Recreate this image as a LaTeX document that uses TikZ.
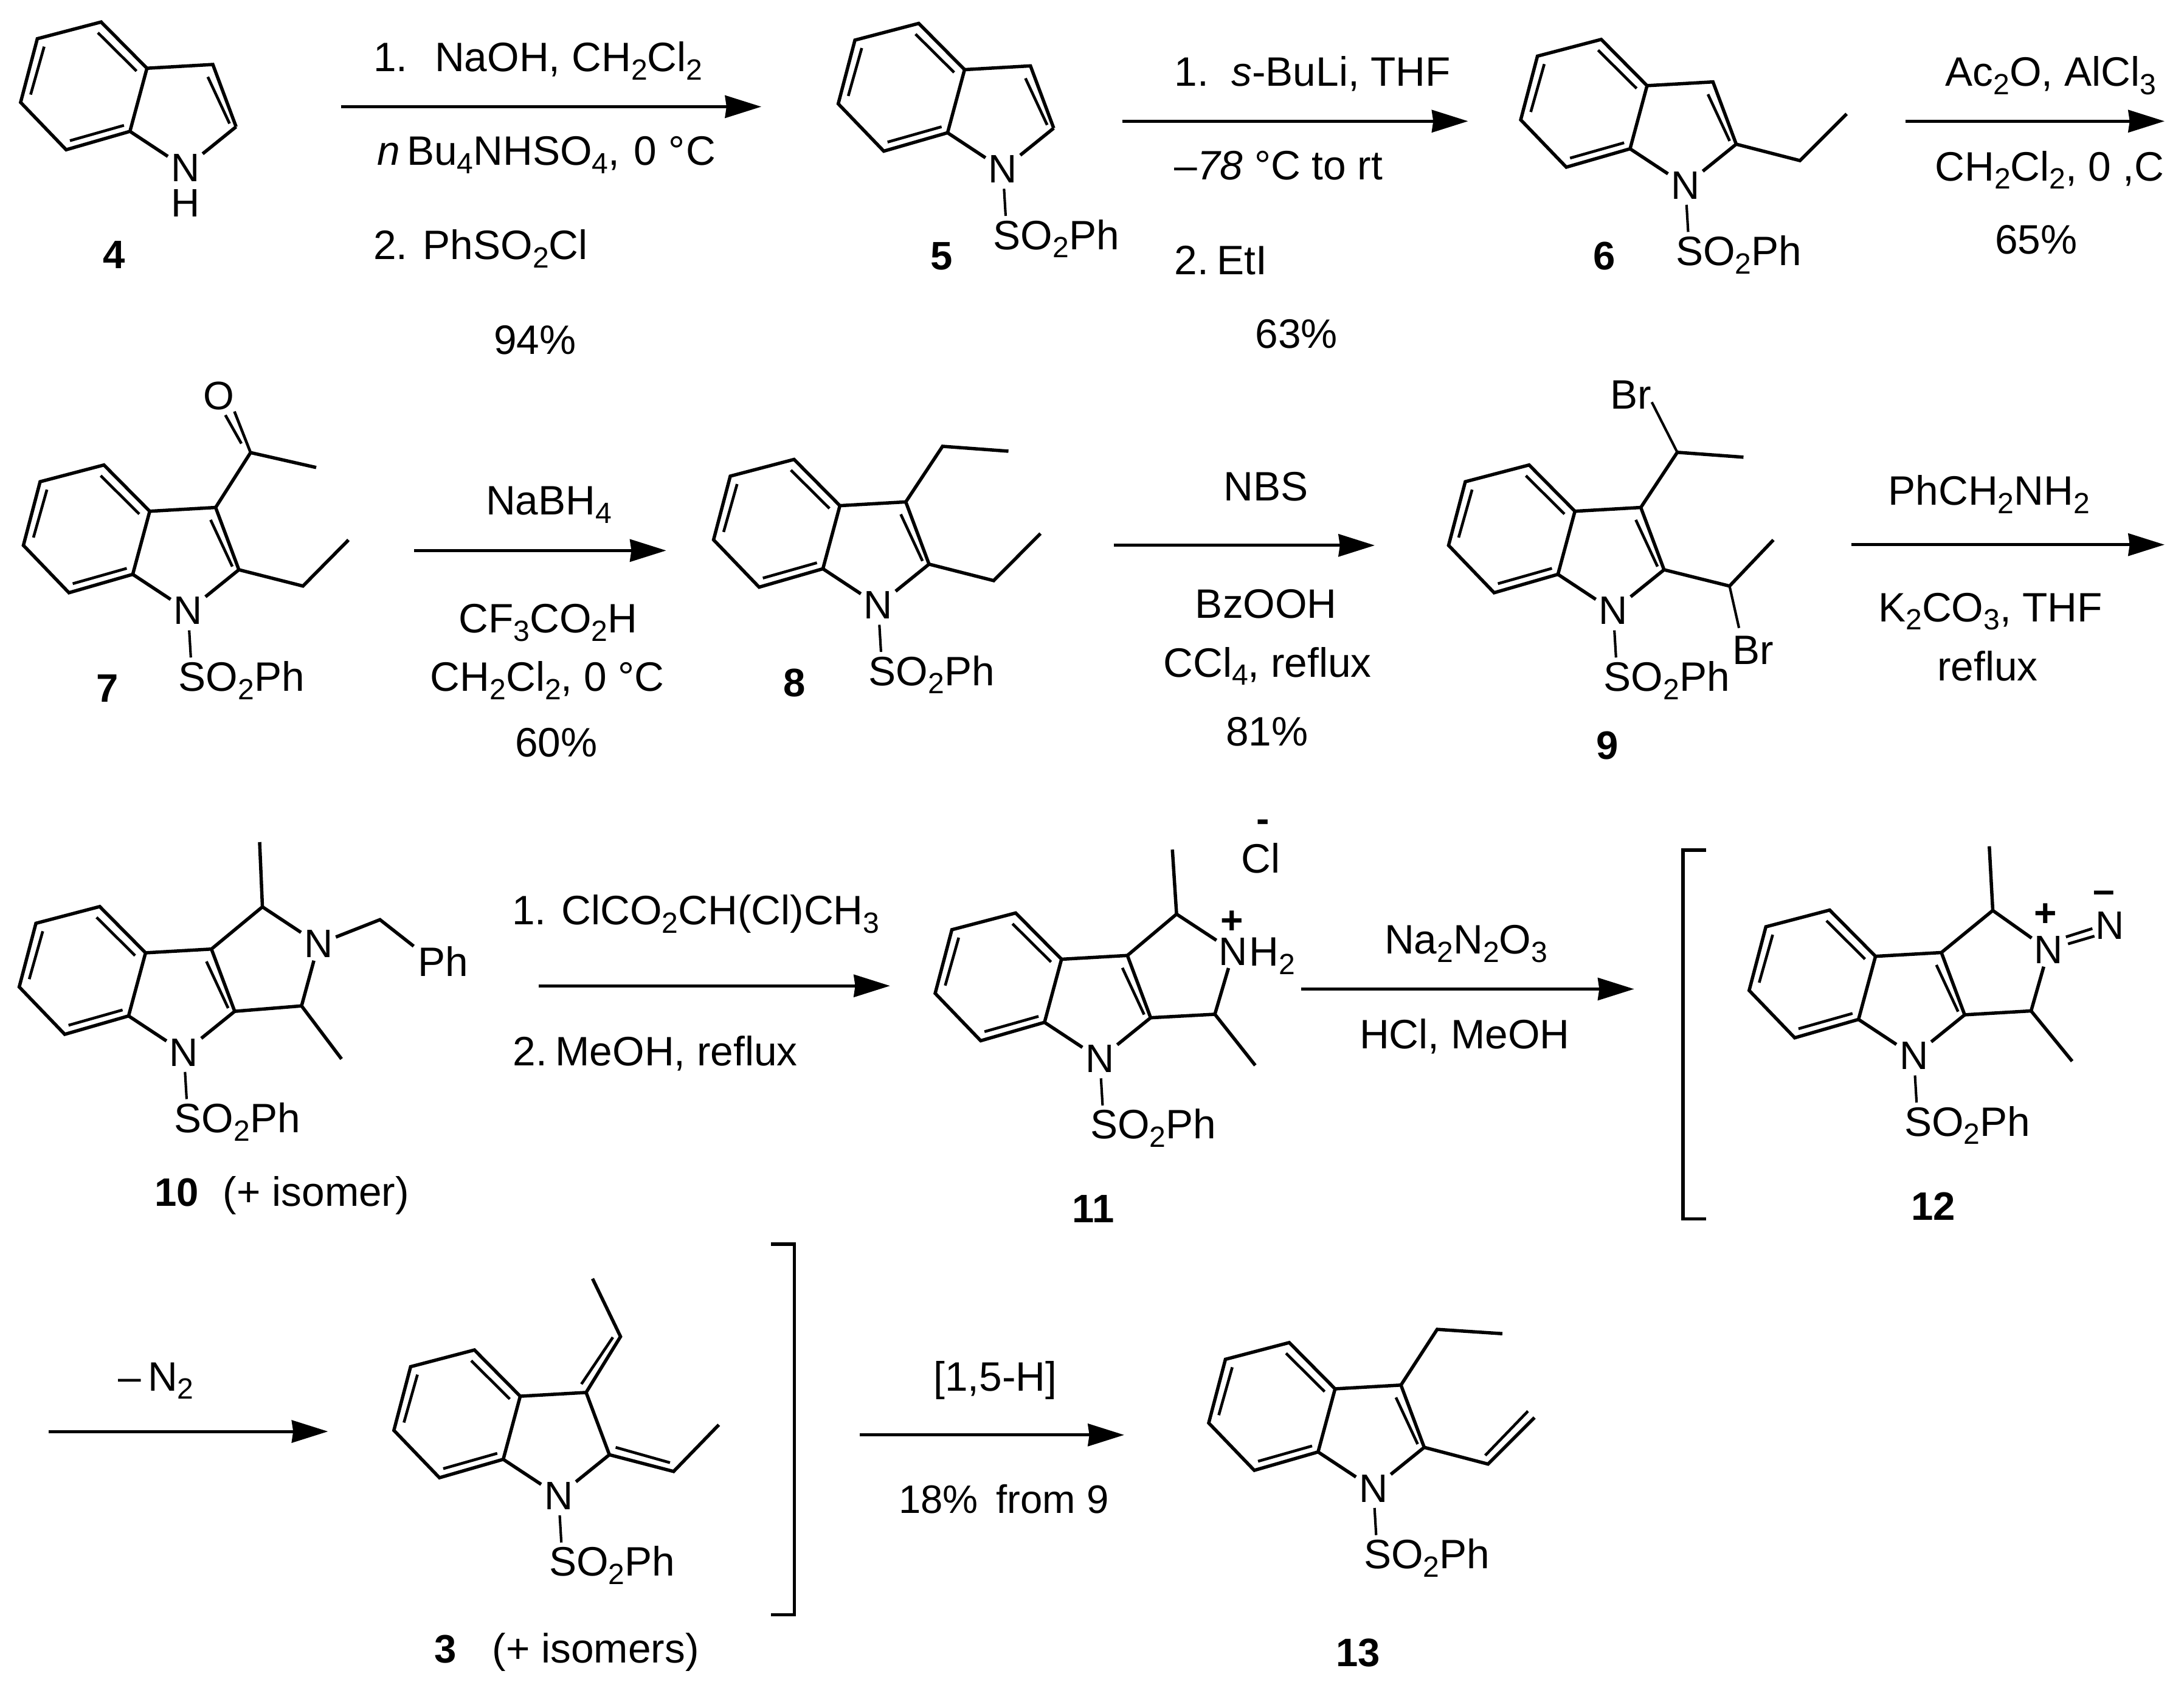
\documentclass[tikz,border=0pt]{standalone}
\usepackage{fontspec}
\setmainfont{Liberation Sans}
\usetikzlibrary{arrows.meta}
\newcommand{\chemsub}[1]{\raisebox{-6pt}{\fontsize{21}{21}\selectfont #1}}
\newcommand{\dg}{\textdegree}
\tikzset{
  bond/.style={line width=2.4pt,line join=miter,line cap=butt},
  thin bond/.style={line width=2pt,line cap=butt},
  so bond/.style={line width=1.8pt,line cap=butt},
  rxnarrow/.style={line width=2.2pt,-{Stealth[length=26pt,width=16pt,inset=1pt]}},
  brk/.style={line width=2.4pt,line join=miter},
  reagent/.style={inner sep=0pt,anchor=base west,yshift=-0.7pt,font=\fontsize{29.5}{32}\selectfont},
  reagentc/.style={inner sep=0pt,anchor=base,yshift=-0.7pt,font=\fontsize{29.5}{32}\selectfont},
  atomlabel/.style={inner sep=0pt,anchor=base west,yshift=-0.5pt,font=\fontsize{29.5}{32}\selectfont},
  atom/.style={inner sep=2pt,font=\fontsize{28.5}{32}\selectfont},
  tight atom/.style={inner sep=0pt,font=\fontsize{28.5}{32}\selectfont},
  cpd/.style={inner sep=0pt,anchor=base,yshift=-0.7pt,font=\fontsize{28.5}{32}\selectfont\bfseries},
  charge/.style={inner sep=0pt,font=\fontsize{28}{32}\selectfont\bfseries},
}
% indole skeleton, in a scope with a shift and a name prefix
\newcommand{\indolecore}{%
  \coordinate (a) at (72.6,15.8); \coordinate (b) at (26.8,27.8);
  \coordinate (c) at (14.8,73.5); \coordinate (d) at (47.5,107.5);
  \coordinate (e) at (93.3,94.3); \coordinate (f) at (105.5,49);
  \coordinate (g) at (152.8,46.3); \coordinate (h) at (169.5,91);
  \node[atom] (N) at (133,120.5) {N};
  \draw[bond] (f) -- (a) -- (b) -- (c) -- (d) -- (e) -- cycle;
  \draw[bond] (f) -- (g) -- (h);
  \draw[bond] (e) -- (N) -- (h);
  \coordinate (ab) at (70.3,23.5); \coordinate (af) at (98,51);
  \coordinate (bb) at (31.7,33.5); \coordinate (bc) at (22,67.9);
  \coordinate (db) at (50.2,101); \coordinate (de) at (89,90);
  \draw[thin bond] (ab) -- (af);
  \draw[thin bond] (bb) -- (bc);
  \draw[thin bond] (db) -- (de);
}
\newcommand{\indoleinner}{%
  \coordinate (gb) at (149.2,55.2); \coordinate (hb) at (164.8,88.7);
  \draw[thin bond] (gb) -- (hb);
}
\newcommand{\sotail}{%
  \node[atomlabel] (S) at (126,177.5) {SO\chemsub{2}Ph};
  \coordinate (soend) at (135,154);
  \draw[so bond,shorten <=2pt] (N) -- (soend);
}
\newcommand{\rxnarrow}[4]{%
  \coordinate (#1s) at (#2,#4); \coordinate (#1e) at (#3,#4);
  \draw[rxnarrow] (#1s) -- (#1e);
}
\begin{document}
\begin{tikzpicture}[x=1pt,y=-1pt]
\useasboundingbox (0,0) rectangle (1568,1209.6);
\fill[white] (0,0) rectangle (1568,1209.6);

% ---- 4
\begin{scope}[name prefix=m4-]
  \indolecore\indoleinner
  \node[atom] (H) at (133,146) {H};
\end{scope}
\node[cpd] (l4) at (82,192) {4};
\rxnarrow{r1}{244.7}{546.6}{76.6}
\node[reagent] (t1a) at (268,50.7) {1.\ \ \hspace{3pt}NaOH, CH\chemsub{2}Cl\chemsub{2}};
\node[reagent] (t1b) at (270.5,118) {\textit{n}\hspace{5pt}Bu\chemsub{4}NHSO\chemsub{4},\hspace{2pt} 0 \dg\hspace{1pt}C};
\node[reagent] (t1c) at (268,185.5) {2. PhSO\chemsub{2}Cl};
\node[reagentc] (t1d) at (384,253.4) {94\%};

% ---- 5
\begin{scope}[shift={(587,1)},name prefix=m5-]
  \indolecore\indoleinner\sotail
\end{scope}
\node[cpd] (l5) at (676,192.8) {5};
\rxnarrow{r2}{805.7}{1054}{87}
\node[reagent] (t2a) at (843,61.2) {1.\ \ \textit{s}-BuLi, THF};
\node[reagent] (t2b) at (843,128.5) {–\textit{78} \dg C to rt};
\node[reagent] (t2c) at (843,196.4) {2.\hspace{6pt}EtI};
\node[reagentc] (t2d) at (930.7,249.4) {63\%};

% ---- 6
\begin{scope}[shift={(1077,12.5)},name prefix=m6-]
  \indolecore\indoleinner\sotail
\end{scope}
\coordinate (m6-c1) at (1292.3,115.3); \coordinate (m6-c2) at (1325.8,81.8);
\draw[bond] (m6-h) -- (m6-c1) -- (m6-c2);
\node[cpd] (l6) at (1152,192.8) {6};
\rxnarrow{r3}{1368}{1554}{87}
\node[reagent] (t3a) at (1396.5,61) {Ac\chemsub{2}O, AlCl\chemsub{3}};
\node[reagent] (t3b) at (1389,129) {CH\chemsub{2}Cl\chemsub{2}, 0 ,C};
\node[reagentc] (t3c) at (1461.8,181.4) {65\%};

% ---- 7
\begin{scope}[shift={(2,318)},name prefix=m7-]
  \indolecore\indoleinner\sotail
\end{scope}
\coordinate (m7-c1) at (217.5,420.7); \coordinate (m7-c2) at (250.2,387.6);
\draw[bond] (m7-h) -- (m7-c1) -- (m7-c2);
\coordinate (m7-co) at (179.9,324.9); \coordinate (m7-me) at (227,335.6);
\draw[bond] (m7-g) -- (m7-co) -- (m7-me);
\node[atom] (m7-O) at (157,284.3) {O};
\coordinate (m7-o1) at (168.3,295.4); \coordinate (m7-o2) at (161.8,298);
\coordinate (m7-i2) at (173.3,318.4);
\draw[thin bond] (m7-o1) -- (m7-co);
\draw[thin bond] (m7-o2) -- (m7-i2);
\node[cpd] (l7) at (77,503.2) {7};
\rxnarrow{r4}{297.4}{478.3}{395.2}
\node[reagentc] (t4a) at (394,369) {NaBH\chemsub{4}};
\node[reagentc] (t4b) at (393.5,453.5) {CF\chemsub{3}CO\chemsub{2}H};
\node[reagentc] (t4c) at (393,495.4) {CH\chemsub{2}Cl\chemsub{2}, 0 \dg C};
\node[reagentc] (t4d) at (399.4,542.6) {60\%};

% ---- 8
\begin{scope}[shift={(497.5,314)},name prefix=m8-]
  \indolecore\indoleinner\sotail
\end{scope}
\coordinate (m8-c1) at (713.4,416.8); \coordinate (m8-c2) at (747,383);
\draw[bond] (m8-h) -- (m8-c1) -- (m8-c2);
\coordinate (m8-c3) at (676.7,320.4); \coordinate (m8-c4) at (724,323.9);
\draw[bond] (m8-g) -- (m8-c3) -- (m8-c4);
\node[cpd] (l8) at (570.5,499.3) {8};
\rxnarrow{r5}{799.7}{987}{391.5}
\node[reagentc] (t5a) at (909,358.8) {NBS};
\node[reagentc] (t5b) at (909,443) {BzOOH};
\node[reagentc] (t5c) at (910,485.2) {CCl\chemsub{4}, reflux};
\node[reagentc] (t5d) at (909.7,534.8) {81\%};

% ---- 9
\begin{scope}[shift={(1025.2,318)},name prefix=m9-]
  \indolecore\indoleinner\sotail
\end{scope}
\coordinate (m9-c1) at (1204.2,324.7); \coordinate (m9-c2) at (1251.7,328.2);
\node[atomlabel] (m9-Br1) at (1156,293) {Br};
\draw[bond] (m9-g) -- (m9-c1) -- (m9-c2);
\draw[so bond] (m9-c1) -- ([yshift=5pt]m9-Br1.south east);
\coordinate (m9-c3) at (1241.7,420.7); \coordinate (m9-c4) at (1273.2,387.6);
\node[atomlabel] (m9-Br2) at (1243.5,476.3) {Br};
\draw[bond] (m9-h) -- (m9-c3) -- (m9-c4);
\draw[so bond] (m9-c3) -- ([xshift=5pt,yshift=5.5pt]m9-Br2.north west);
\node[cpd] (l9) at (1154,544.5) {9};
\rxnarrow{r6}{1329}{1554}{391}
\node[reagentc] (t6a) at (1428,361.9) {PhCH\chemsub{2}NH\chemsub{2}};
\node[reagentc] (t6b) at (1429,445.5) {K\chemsub{2}CO\chemsub{3}, THF};
\node[reagentc] (t6c) at (1427,488) {reflux};

% ---- 10
\begin{scope}[shift={(-1,635)},name prefix=m10-]
  \indolecore\indoleinner\sotail
\end{scope}
\coordinate (m10-c1) at (188.4,651); \coordinate (m10-me1) at (186.4,604.5);
\coordinate (m10-c4) at (216.5,722.1); \coordinate (m10-me4) at (245.2,760.2);
\node[atom] (m10-N2) at (228.6,677.6) {N};
\coordinate (m10-ch2) at (272.8,660.2);
\node[atomlabel] (m10-Ph) at (300,700.3) {Ph};
\draw[bond] (m10-g) -- (m10-c1) -- (m10-me1);
\draw[bond] (m10-c1) -- (m10-N2) -- (m10-c4) -- (m10-h);
\draw[bond] (m10-c4) -- (m10-me4);
\draw[bond] (m10-N2) -- (m10-ch2) -- ([xshift=-3pt]m10-Ph.north west);
\node[cpd] (l10) at (127,865) {10};
\node[reagent] (l10b) at (160,865) {(+ isomer)};
\rxnarrow{r7}{386.8}{639}{707.7}
\node[reagent] (t7a) at (367.5,663) {1. ClCO\chemsub{2}CH(Cl)CH\chemsub{3}};
\node[reagent] (t7b) at (368,764.4) {2.\hspace{6pt}MeOH, reflux};

% ---- 11
\begin{scope}[shift={(656.6,639.6)},name prefix=m11-]
  \indolecore\indoleinner\sotail
\end{scope}
\coordinate (m11-c1) at (844.7,656.2); \coordinate (m11-me1) at (841.7,609.9);
\coordinate (m11-c4) at (872.2,728.1); \coordinate (m11-me4) at (901.2,764.8);
\node[tight atom] (m11-N2) at (885.5,683) {N};
\node[atomlabel] (m11-H2) at (896.8,693) {H\chemsub{2}};
\node[charge] (m11-plus) at (884.7,662) {+};
\node[atomlabel] (m11-Cl) at (891,626.1) {Cl};
\node[charge] (m11-minus) at (906.7,593) {-};
\draw[bond] (m11-g) -- (m11-c1) -- (m11-me1);
\draw[bond,shorten >=2pt] (m11-c1) -- (m11-N2);
\draw[bond,shorten <=2pt] (m11-N2) -- (m11-c4);
\draw[bond] (m11-c4) -- (m11-h);
\draw[bond] (m11-c4) -- (m11-me4);
\node[cpd] (l11) at (785,877) {11};
\rxnarrow{r8}{934.2}{1173.2}{710}
\node[reagentc] (t8a) at (1052.5,684) {Na\chemsub{2}N\chemsub{2}O\chemsub{3}};
\node[reagentc] (t8b) at (1051.5,752) {HCl, MeOH};

% ---- left bracket
\coordinate (bl1) at (1224.7,610.3); \coordinate (bl2) at (1208.2,610.3);
\coordinate (bl3) at (1208.2,875); \coordinate (bl4) at (1224.7,875);
\draw[brk] (bl1) -- (bl2) -- (bl3) -- (bl4);

% ---- 12
\begin{scope}[shift={(1241,637.5)},name prefix=m12-]
  \indolecore\indoleinner\sotail
\end{scope}
\coordinate (m12-c1) at (1430.7,653.6); \coordinate (m12-me1) at (1428.2,607.5);
\coordinate (m12-c4) at (1458.2,725.7); \coordinate (m12-me4) at (1487.7,761.8);
\node[tight atom] (m12-N2) at (1470.7,682) {N};
\node[tight atom] (m12-N3) at (1514.7,664.5) {N};
\node[charge] (m12-plus) at (1468.5,657) {+};
\node[charge] (m12-minus) at (1510.7,644) {–};
\coordinate (m12-d1) at (1483.2,672.6); \coordinate (m12-d2) at (1502.2,666.6);
\coordinate (m12-d3) at (1484.7,677.6); \coordinate (m12-d4) at (1503.7,672);
\draw[bond] (m12-g) -- (m12-c1) -- (m12-me1);
\draw[bond,shorten >=2pt] (m12-c1) -- (m12-N2);
\draw[bond,shorten <=2pt] (m12-N2) -- (m12-c4);
\draw[bond] (m12-c4) -- (m12-h);
\draw[bond] (m12-c4) -- (m12-me4);
\draw[thin bond] (m12-d1) -- (m12-d2);
\draw[thin bond] (m12-d3) -- (m12-d4);
\node[cpd] (l12) at (1388,875) {12};

% ---- 3
\rxnarrow{r9}{35}{235.5}{1027.6}
\node[reagent] (t9a) at (84.5,997.7) {–\hspace{5pt}N\chemsub{2}};
\begin{scope}[shift={(268,953.3)},name prefix=m3-]
  \indolecore\sotail
\end{scope}
\coordinate (m3-c1) at (445.5,959.5); \coordinate (m3-me1) at (425.4,917.9);
\coordinate (m3-i1) at (417.4,993.6); \coordinate (m3-i2) at (440,960);
\coordinate (m3-c2) at (483.6,1056.3); \coordinate (m3-me2) at (516.1,1022.8);
\coordinate (m3-i3) at (442,1039); \coordinate (m3-i4) at (481,1050);
\draw[bond] (m3-g) -- (m3-c1) -- (m3-me1);
\draw[bond] (m3-h) -- (m3-c2) -- (m3-me2);
\draw[thin bond] (m3-i1) -- (m3-i2);
\draw[thin bond] (m3-i3) -- (m3-i4);
\node[cpd] (l3) at (319.7,1193) {3};
\node[reagent] (l3b) at (353.3,1193) {(+ isomers)};

% ---- right bracket
\coordinate (br1) at (553.7,893.2); \coordinate (br2) at (570.3,893.2);
\coordinate (br3) at (570.3,1159.2); \coordinate (br4) at (553.7,1159.2);
\draw[brk] (br1) -- (br2) -- (br3) -- (br4);

\rxnarrow{r10}{617.4}{807.1}{1030.1}
\node[reagentc] (t10a) at (714.5,997.8) {[1,5-H]};
\node[reagent,font=\fontsize{28.5}{32}\selectfont] (t10b) at (645,1085.5) {18\%\hspace{13pt}from 9};

% ---- 13
\begin{scope}[shift={(853,948)},name prefix=m13-]
  \indolecore\indoleinner\sotail
\end{scope}
\coordinate (m13-c1) at (1031.8,954.3); \coordinate (m13-c2) at (1078.6,957.4);
\draw[bond] (m13-g) -- (m13-c1) -- (m13-c2);
\coordinate (m13-v1) at (1068.3,1051); \coordinate (m13-v2) at (1101.7,1017.6);
\coordinate (m13-v3) at (1066.3,1044.8); \coordinate (m13-v4) at (1097,1013);
\draw[bond] (m13-h) -- (m13-v1) -- (m13-v2);
\draw[thin bond] (m13-v3) -- (m13-v4);
\node[cpd] (l13) at (975,1195.5) {13};
\end{tikzpicture}
\end{document}
